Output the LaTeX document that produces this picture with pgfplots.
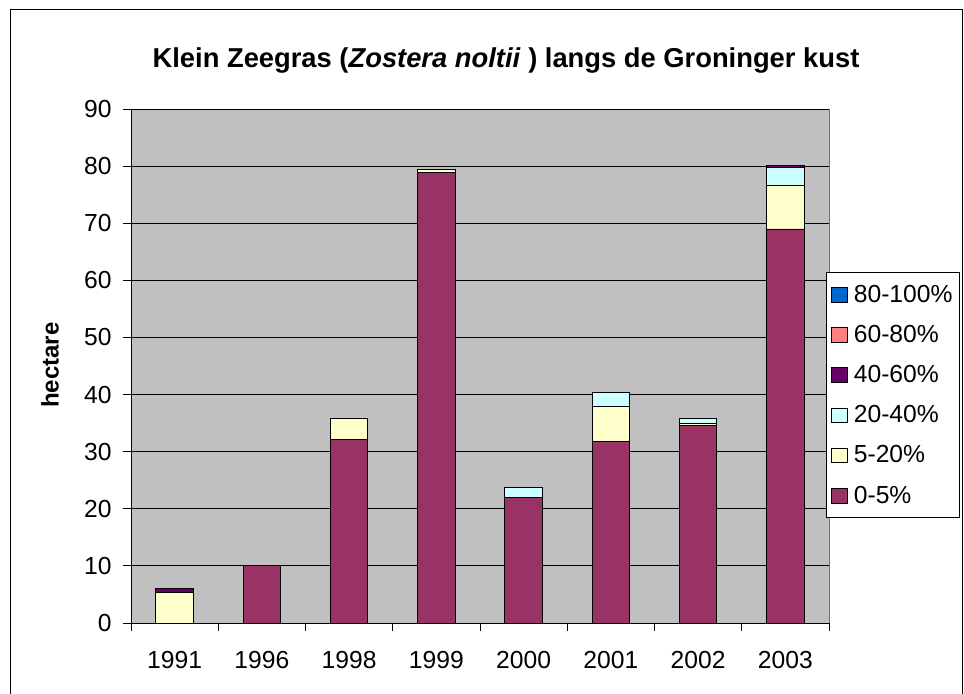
\documentclass[border=0pt]{standalone}
\usepackage{pgfplots}
\pgfplotsset{compat=1.18}
\usepackage{fontspec}
\setmainfont{Liberation Sans}
\definecolor{cA}{HTML}{993366}
\definecolor{cB}{HTML}{FFFFCC}
\definecolor{cC}{HTML}{CCFFFF}
\definecolor{cD}{HTML}{660066}
\definecolor{cE}{HTML}{FF8080}
\definecolor{cF}{HTML}{0066CC}
\definecolor{bg}{HTML}{C0C0C0}
\begin{document}
\begin{tikzpicture}[x=0.75pt,y=0.75pt]
\useasboundingbox (0,0) rectangle (964,693);
\draw[black,line width=0.75pt] (10,-10) -- (10,683) -- (962,683) -- (962,-10);
\node[font=\fontsize{20.5}{24}\selectfont\bfseries] at (506,633) {Klein Zeegras (\textit{Zostera noltii} ) langs de Groninger kust};
\node[font=\fontsize{18}{21}\selectfont\bfseries, rotate=90] at (50,328) {hectare};
\begin{axis}[
  at={(131pt*0.75,70pt*0.75)}, anchor=south west,
  scale only axis, width=523.5pt, height=385.5pt,
  ybar stacked, bar width=28.1pt,
  xmin=-0.5, xmax=7.5, ymin=0, ymax=90,
  ytick={0,10,...,90},
  xtick={0,...,7},
  xticklabels={1991,1996,1998,1999,2000,2001,2002,2003},
  minor xtick={-0.5,0.5,...,7.5},
  major x tick style={draw=none},
  minor tick length=6pt, major tick length=6pt,
  tick align=outside,
  xtick pos=bottom, ytick pos=left,
  axis x line*=bottom, axis y line*=left,
  axis line style={-, black, line width=0.75pt},
  axis background/.style={fill=bg, draw=gray!90!black},
  ymajorgrids, grid style={black, line width=0.75pt},
  tick style={black, line width=0.75pt},
  ticklabel style={font=\fontsize{18.5}{22}\selectfont},
  /pgf/number format/assume math mode=true,
  xticklabel style={yshift=-12pt},
  yticklabel style={xshift=-5pt},
  reverse legend,
  legend style={at={(0.9957,0.683)}, anchor=north west, draw=black, line width=0.75pt, fill=white,
    font=\fontsize{18.5}{22}\selectfont, row sep=11.7pt, inner xsep=3pt, inner ysep=7.5pt,
    /tikz/every odd column/.append style={column sep=3pt},
    /tikz/every even column/.append style={column sep=0pt}},
  legend cell align=left,
  legend image code/.code={\draw[#1, draw=black, line width=0.5pt] (0pt,-5.5pt) rectangle (12pt,5.5pt);},
  every axis plot/.append style={draw=black, line width=0.6pt},
]
\addplot[fill=cA] coordinates {(0,0) (1,10) (2,32.1) (3,78.9) (4,22.0) (5,31.8) (6,34.6) (7,69.0)};
\addplot[fill=cB] coordinates {(0,5.4) (1,0) (2,3.8) (3,0.5) (4,0) (5,6.2) (6,0.4) (7,7.7)};
\addplot[fill=cC] coordinates {(0,0) (1,0) (2,0) (3,0) (4,1.8) (5,2.4) (6,0.9) (7,3.0)};
\addplot[fill=cD] coordinates {(0,0.6) (1,0) (2,0) (3,0) (4,0) (5,0) (6,0) (7,0.4)};
\addplot[fill=cE] coordinates {(0,0) (1,0) (2,0) (3,0) (4,0) (5,0) (6,0) (7,0)};
\addplot[fill=cF] coordinates {(0,0) (1,0) (2,0) (3,0) (4,0) (5,0) (6,0) (7,0)};
\legend{0-5\%,5-20\%,20-40\%,40-60\%,60-80\%,80-100\%}
\end{axis}
\end{tikzpicture}
\end{document}
